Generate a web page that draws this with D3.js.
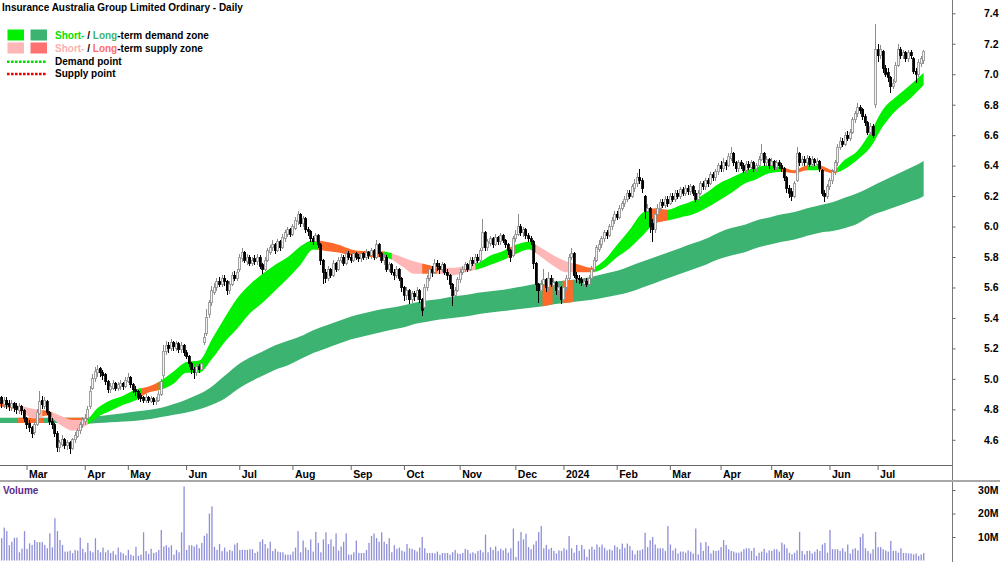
<!DOCTYPE html>
<html>
<head>
<meta charset="utf-8">
<script src="https://cdn.jsdelivr.net/npm/d3@7"></script>
<style>
body { margin: 0; background: #fff; }
svg { display: block; font-family: "Liberation Sans", Arial, sans-serif; }
</style>
</head>
<body>
<svg id="chart" width="1000" height="562"></svg>
<script>
//data//
var title = "Insurance Australia Group Limited Ordinary - Daily";
var startDate = "2023-02-13", endDate = "2024-07-25";
var holidays = ["2023-04-07","2023-04-10","2023-04-25","2023-06-12","2023-12-25","2023-12-26",
	"2024-01-01","2024-01-26","2024-03-29","2024-04-01","2024-04-25","2024-06-10"];
var monthLabels = ["Mar","Apr","May","Jun","Jul","Aug","Sep","Oct","Nov","Dec","2024","Feb","Mar","Apr","May","Jun","Jul"];
var priceTicks = [4.6,4.8,5.0,5.2,5.4,5.6,5.8,6.0,6.2,6.4,6.6,6.8,7.0,7.2,7.4];
var volTicks = [10,20,30];

var opens = [
4.90,4.85,4.88,4.83,4.86,4.84,4.81,4.84,4.82,4.79,
4.82,4.79,4.74,4.71,4.68,4.65,4.70,4.77,4.86,4.82,
4.85,4.78,4.72,4.70,4.64,4.55,4.57,4.60,4.56,4.58,
4.54,4.60,4.62,4.66,4.70,4.72,4.74,4.82,4.94,5.00,
5.04,5.07,5.04,5.03,4.98,4.93,4.94,4.97,4.94,4.95,
4.97,4.95,4.98,5.01,4.96,4.93,4.92,4.89,4.88,4.86,
4.88,4.85,4.87,4.85,4.86,4.90,5.02,5.18,5.22,5.20,
5.24,5.20,5.23,5.19,5.22,5.17,5.15,5.10,5.06,5.04,
5.08,5.06,5.24,5.30,5.42,5.50,5.57,5.60,5.64,5.62,
5.66,5.64,5.58,5.62,5.68,5.66,5.72,5.79,5.83,5.77,
5.80,5.76,5.79,5.77,5.80,5.75,5.72,5.78,5.83,5.86,
5.88,5.84,5.90,5.86,5.92,5.95,5.98,5.95,5.99,6.03,
6.08,6.02,6.05,5.98,5.97,5.92,5.90,5.94,5.88,5.78,
5.70,5.66,5.72,5.68,5.76,5.72,5.78,5.80,5.76,5.82,
5.80,5.78,5.82,5.80,5.79,5.82,5.80,5.83,5.81,5.84,
5.80,5.88,5.82,5.78,5.80,5.72,5.75,5.70,5.68,5.72,
5.66,5.60,5.55,5.58,5.52,5.56,5.54,5.58,5.52,5.47,
5.60,5.66,5.72,5.70,5.76,5.74,5.72,5.75,5.70,5.68,
5.62,5.55,5.58,5.65,5.70,5.72,5.75,5.72,5.78,5.76,
5.80,5.78,5.86,5.96,5.86,5.89,5.92,5.88,5.93,5.90,
5.94,5.91,5.88,5.84,5.81,5.92,5.95,6.00,5.96,5.98,
5.94,5.92,5.90,5.76,5.62,5.58,5.62,5.65,5.60,5.66,
5.61,5.63,5.58,5.60,5.52,5.60,5.66,5.80,5.82,5.68,
5.66,5.65,5.62,5.64,5.62,5.66,5.72,5.78,5.85,5.88,
5.92,5.96,5.94,6.00,6.04,6.08,6.06,6.12,6.15,6.18,
6.22,6.20,6.25,6.28,6.32,6.30,6.20,6.10,6.12,6.02,
5.98,6.08,6.12,6.16,6.14,6.18,6.15,6.20,6.18,6.22,
6.20,6.24,6.22,6.25,6.23,6.26,6.22,6.18,6.22,6.28,
6.26,6.30,6.28,6.34,6.32,6.36,6.40,6.38,6.42,6.40,
6.45,6.48,6.42,6.38,6.42,6.40,6.37,6.41,6.39,6.42,
6.38,6.40,6.44,6.48,6.42,6.44,6.40,6.43,6.39,6.42,
6.40,6.38,6.32,6.25,6.23,6.20,6.30,6.48,6.42,6.44,
6.42,6.45,6.41,6.44,6.41,6.43,6.37,6.22,6.20,6.26,
6.30,6.36,6.42,6.52,6.56,6.54,6.60,6.58,6.62,6.70,
6.74,6.78,6.77,6.72,6.68,6.62,6.66,6.80,7.16,7.12,
7.15,7.04,7.01,6.98,6.92,6.95,7.06,7.16,7.12,7.14,
7.10,7.14,7.10,7.02,7.00,7.07,7.09];

var highs = [
4.93,4.91,4.89,4.88,4.88,4.86,4.86,4.85,4.84,4.84,
4.83,4.80,4.75,4.73,4.69,4.72,4.80,4.92,4.89,4.88,
4.86,4.79,4.74,4.71,4.66,4.60,4.63,4.61,4.60,4.59,
4.61,4.65,4.68,4.72,4.75,4.77,4.82,4.95,5.03,5.08,
5.09,5.08,5.06,5.04,4.99,4.97,4.99,4.98,4.98,4.99,
4.98,5.01,5.04,5.02,4.97,4.95,4.93,4.91,4.89,4.90,
4.89,4.89,4.88,4.88,4.92,5.00,5.22,5.25,5.24,5.26,
5.25,5.25,5.24,5.24,5.23,5.19,5.16,5.11,5.08,5.10,
5.10,5.12,5.30,5.46,5.52,5.61,5.63,5.66,5.67,5.68,
5.68,5.65,5.64,5.70,5.71,5.72,5.82,5.86,5.84,5.82,
5.81,5.80,5.81,5.82,5.81,5.76,5.80,5.86,5.88,5.91,
5.89,5.92,5.91,5.95,5.98,6.00,5.99,6.02,6.06,6.10,
6.09,6.07,6.06,6.00,5.98,5.94,5.96,5.95,5.89,5.79,
5.72,5.74,5.73,5.78,5.77,5.80,5.82,5.81,5.84,5.84,
5.82,5.84,5.83,5.82,5.84,5.83,5.85,5.84,5.86,5.85,
5.91,5.89,5.83,5.82,5.81,5.77,5.76,5.72,5.74,5.73,
5.67,5.61,5.60,5.59,5.58,5.58,5.60,5.59,5.53,5.62,
5.68,5.75,5.74,5.79,5.78,5.76,5.77,5.76,5.72,5.69,
5.63,5.60,5.67,5.72,5.74,5.77,5.76,5.80,5.80,5.82,
5.82,5.86,6.05,5.97,5.92,5.94,5.93,5.95,5.94,5.96,
5.95,5.92,5.89,5.85,5.94,5.98,6.08,6.02,6.00,5.99,
5.96,5.94,5.91,5.77,5.63,5.65,5.72,5.66,5.70,5.68,
5.66,5.64,5.62,5.61,5.62,5.68,5.82,5.86,5.83,5.70,
5.68,5.67,5.66,5.66,5.68,5.74,5.80,5.88,5.91,5.94,
5.98,5.98,6.02,6.06,6.10,6.10,6.14,6.17,6.20,6.24,
6.24,6.28,6.31,6.35,6.38,6.32,6.21,6.15,6.13,6.05,
6.10,6.15,6.18,6.18,6.20,6.20,6.22,6.22,6.24,6.24,
6.26,6.26,6.27,6.27,6.28,6.27,6.24,6.24,6.30,6.30,
6.32,6.32,6.36,6.36,6.38,6.42,6.43,6.45,6.44,6.48,
6.52,6.49,6.43,6.44,6.44,6.42,6.43,6.43,6.44,6.43,
6.42,6.46,6.54,6.49,6.46,6.45,6.45,6.44,6.44,6.44,
6.42,6.39,6.33,6.27,6.25,6.30,6.52,6.49,6.46,6.46,
6.47,6.46,6.46,6.45,6.45,6.44,6.38,6.24,6.28,6.32,
6.38,6.44,6.54,6.59,6.58,6.62,6.63,6.64,6.72,6.76,
6.81,6.80,6.78,6.74,6.69,6.68,6.67,7.33,7.20,7.19,
7.16,7.06,7.04,6.99,6.97,7.08,7.20,7.18,7.16,7.15,
7.16,7.16,7.11,7.04,7.10,7.12,7.16];

var lows = [
4.82,4.83,4.81,4.81,4.80,4.79,4.79,4.78,4.77,4.77,
4.76,4.72,4.67,4.65,4.61,4.63,4.69,4.76,4.80,4.80,
4.76,4.70,4.67,4.62,4.52,4.52,4.55,4.54,4.53,4.51,
4.53,4.58,4.61,4.64,4.68,4.70,4.73,4.80,4.93,4.98,
5.01,5.01,4.99,4.96,4.91,4.91,4.93,4.92,4.92,4.93,
4.93,4.94,4.97,4.94,4.91,4.89,4.86,4.85,4.84,4.84,
4.84,4.84,4.83,4.83,4.85,4.89,5.00,5.16,5.17,5.18,
5.18,5.18,5.17,5.17,5.15,5.13,5.08,5.03,5.00,5.02,
5.04,5.05,5.22,5.28,5.40,5.48,5.55,5.58,5.60,5.60,
5.61,5.55,5.56,5.61,5.64,5.64,5.70,5.77,5.76,5.75,
5.74,5.74,5.75,5.75,5.72,5.69,5.71,5.77,5.81,5.84,
5.82,5.83,5.84,5.85,5.90,5.93,5.93,5.94,5.98,6.01,
6.00,6.00,5.96,5.94,5.90,5.88,5.88,5.86,5.75,5.62,
5.63,5.64,5.66,5.67,5.70,5.71,5.76,5.74,5.75,5.78,
5.76,5.77,5.78,5.77,5.77,5.78,5.78,5.79,5.79,5.78,
5.79,5.80,5.76,5.75,5.70,5.70,5.68,5.65,5.66,5.64,
5.57,5.51,5.52,5.49,5.50,5.51,5.52,5.50,5.41,5.46,
5.58,5.64,5.67,5.69,5.71,5.69,5.70,5.68,5.65,5.59,
5.48,5.53,5.57,5.63,5.68,5.70,5.70,5.71,5.74,5.75,
5.76,5.77,5.84,5.84,5.84,5.87,5.86,5.87,5.88,5.88,
5.89,5.86,5.81,5.77,5.80,5.90,5.94,5.94,5.93,5.92,
5.90,5.88,5.72,5.58,5.50,5.56,5.60,5.57,5.58,5.60,
5.58,5.55,5.54,5.49,5.50,5.58,5.65,5.78,5.66,5.63,
5.62,5.61,5.60,5.60,5.60,5.65,5.71,5.77,5.83,5.86,
5.90,5.92,5.93,5.98,6.02,6.04,6.05,6.10,6.13,6.16,
6.18,6.19,6.23,6.26,6.28,6.22,6.05,6.06,5.96,5.90,
5.96,6.05,6.10,6.12,6.12,6.13,6.14,6.16,6.16,6.18,
6.18,6.20,6.20,6.21,6.21,6.20,6.16,6.17,6.21,6.24,
6.24,6.26,6.27,6.30,6.30,6.34,6.36,6.36,6.37,6.39,
6.43,6.40,6.36,6.36,6.38,6.35,6.35,6.37,6.37,6.36,
6.36,6.39,6.43,6.40,6.40,6.38,6.38,6.37,6.37,6.38,
6.36,6.30,6.22,6.19,6.17,6.19,6.29,6.40,6.40,6.40,
6.40,6.39,6.39,6.40,6.39,6.36,6.20,6.16,6.18,6.24,
6.28,6.34,6.40,6.50,6.52,6.53,6.56,6.56,6.61,6.68,
6.72,6.74,6.70,6.66,6.60,6.60,6.58,6.78,7.08,7.10,
7.01,6.98,6.95,6.88,6.90,6.94,7.05,7.10,7.10,7.08,
7.08,7.10,7.00,6.94,6.98,7.05,7.07];

var closes = [
4.86,4.88,4.84,4.86,4.83,4.82,4.84,4.81,4.80,4.82,
4.79,4.74,4.70,4.68,4.64,4.70,4.78,4.85,4.83,4.86,
4.78,4.72,4.70,4.64,4.55,4.58,4.60,4.56,4.58,4.54,
4.60,4.63,4.66,4.70,4.73,4.74,4.80,4.92,5.00,5.05,
5.06,5.04,5.02,4.98,4.93,4.95,4.97,4.94,4.96,4.97,
4.95,4.99,5.01,4.96,4.93,4.92,4.88,4.87,4.86,4.88,
4.86,4.87,4.85,4.86,4.90,4.98,5.18,5.22,5.20,5.24,
5.21,5.23,5.19,5.22,5.17,5.15,5.10,5.06,5.04,5.08,
5.06,5.10,5.27,5.40,5.50,5.58,5.60,5.64,5.62,5.66,
5.64,5.58,5.62,5.68,5.66,5.70,5.80,5.83,5.78,5.80,
5.76,5.78,5.77,5.80,5.74,5.72,5.78,5.84,5.86,5.88,
5.84,5.90,5.86,5.93,5.96,5.98,5.95,6.00,6.04,6.08,
6.02,6.05,5.98,5.97,5.92,5.90,5.94,5.88,5.78,5.70,
5.66,5.72,5.68,5.76,5.72,5.78,5.80,5.76,5.82,5.80,
5.78,5.82,5.80,5.79,5.82,5.80,5.83,5.81,5.84,5.80,
5.88,5.82,5.78,5.80,5.72,5.75,5.70,5.68,5.72,5.66,
5.60,5.55,5.58,5.52,5.56,5.54,5.58,5.52,5.45,5.60,
5.66,5.72,5.70,5.76,5.74,5.72,5.75,5.70,5.68,5.62,
5.55,5.58,5.65,5.70,5.72,5.75,5.72,5.78,5.76,5.80,
5.78,5.84,5.96,5.86,5.90,5.92,5.88,5.93,5.90,5.94,
5.91,5.88,5.84,5.80,5.92,5.95,6.00,5.96,5.98,5.94,
5.92,5.90,5.76,5.62,5.58,5.62,5.65,5.60,5.66,5.62,
5.63,5.58,5.60,5.52,5.60,5.66,5.80,5.82,5.68,5.66,
5.65,5.63,5.64,5.62,5.66,5.72,5.78,5.86,5.88,5.92,
5.96,5.94,6.00,6.04,6.08,6.06,6.12,6.15,6.18,6.22,
6.20,6.26,6.28,6.32,6.30,6.25,6.10,6.12,6.00,5.98,
6.08,6.12,6.16,6.14,6.18,6.15,6.20,6.18,6.22,6.20,
6.24,6.22,6.25,6.23,6.26,6.22,6.18,6.22,6.28,6.26,
6.30,6.28,6.34,6.32,6.36,6.40,6.38,6.42,6.40,6.46,
6.48,6.42,6.38,6.42,6.40,6.37,6.41,6.39,6.42,6.38,
6.40,6.44,6.48,6.42,6.44,6.40,6.43,6.39,6.42,6.40,
6.38,6.32,6.25,6.22,6.20,6.28,6.48,6.42,6.44,6.42,
6.45,6.41,6.44,6.42,6.43,6.38,6.22,6.20,6.26,6.30,
6.36,6.42,6.52,6.56,6.54,6.60,6.58,6.62,6.70,6.74,
6.78,6.76,6.72,6.68,6.62,6.66,6.60,7.16,7.12,7.16,
7.04,7.00,6.98,6.92,6.94,7.06,7.16,7.12,7.14,7.10,
7.14,7.12,7.02,7.00,7.08,7.10,7.15];

// volume in millions
var volumes = [
7,9,9.5,14,12.5,6.5,8,9.7,9.7,3.5,
5,12.5,5,7.3,6.6,8.7,7.8,7.8,7.8,6.6,
5.2,11.6,5.6,18,12.5,8.7,6.6,3.8,3.8,4.2,
3.1,4.5,4.2,9.7,5,3.5,7.5,4,3.5,9.5,
4.5,3.5,5.5,3.5,4.5,3.2,4,2.5,5.5,3.5,
3,2.2,4.5,2.5,2,5.8,2,2.5,12,4,
2.8,5,3.2,3.5,4.5,13,6,6.5,5.6,6.5,
2.5,4.5,3.5,12,31.5,4.5,6.5,6.5,6,6.8,
5.2,7.5,10.5,11.5,20,23,5.8,4.5,7,4,
5.5,3.8,4.5,4,6.8,7.5,4.5,4.5,4.5,4.5,
4.8,4.8,3.2,3.8,8,9,7,5.2,8,4,
5,3.8,3.5,3.5,2.5,2.5,2.5,3.8,5.5,12.5,
3.5,8.5,5.5,4.5,9,3.8,12.2,7.5,3.5,9,
12,7,9,6,11.5,4.2,6,8,11.5,2.5,
2.5,3.5,8.5,3.2,3.2,3.2,4.5,7.5,10.5,11.5,
9.5,8,12,8,7,9.5,3.5,6.5,5,5.5,
4.2,3.8,7,5.2,5,4.5,3.8,5.5,10,5.2,
3.2,3.2,3.2,3,3.8,2.5,3.2,3.2,3.2,2.5,
3.5,4.5,3,2.8,3.2,5,4.5,3,3.5,3,
4,4.5,3.5,11,3.5,5.6,4.5,6,4,5,
4.3,5.2,3.3,5.2,13.6,1.5,8.3,12.1,9.0,11.4,
5.7,4.8,6.8,8.3,12.1,14.7,5.2,6.6,4.8,5.4,
4.1,3.0,4.3,4.1,5.2,4.6,10.4,5.2,3.3,6.6,
4.1,6.6,4.8,1.5,4.8,5.9,4.6,6.8,5.7,6.8,
5.4,4.3,4.8,4.3,6.4,5.7,4.8,7.2,5.4,7.2,
6.2,4.3,2.6,4.3,4.3,4.8,11.8,5.7,8.6,10.0,
6.8,5.2,5.2,5.2,4.1,14.7,6.8,4.3,5.2,3.0,
3.8,3.8,3.3,4.3,3.8,3.0,13.6,2.6,7.6,4.1,
7.9,6.2,3.0,4.3,4.1,4.3,5.7,8.7,6.6,4.8,
4.1,3.8,3.3,3.3,3.8,4.8,5.2,5.2,4.1,5.4,
1.9,3.3,3.8,5.0,3.3,4.3,4.1,4.8,4.8,3.8,
7.6,6.8,5.2,3.3,2.6,3.3,4.3,12.2,4.1,2.6,
4.1,4.1,3.0,3.8,4.8,4.1,6.8,7.5,3.3,13.0,
4.8,4.8,4.8,4.1,5.2,3.8,6.8,3.0,4.8,5.2,
4.3,10.0,11.4,5.2,4.1,3.0,4.8,12.2,5.7,5.7,
4.8,4.3,3.8,8.3,4.1,4.1,3.3,5.2,3.2,3.2,
3.0,3.0,2.6,3.0,1.9,2.6,3.2];

// long-term zone, sampled by bar index
var ltIdx = [0,5,10,15,20,25,30,35,40,45,50,55,60,65,70,75,80,85,90,95,100,105,110,115,120,125,130,135,140,145,150,155,160,165,170,175,180,185,190,195,200,205,210,215,220,225,230,235,240,245,250,255,260,265,270,275,280,285,290,295,300,305,310,315,320,325,330,335,340,345,350,355,360,365,366];
var ltHi = [4.745,4.745,4.745,4.745,4.745,4.745,4.745,4.745,4.755,4.765,4.775,4.785,4.795,4.81,4.835,4.865,4.90,4.95,5.02,5.09,5.14,5.18,5.22,5.25,5.28,5.32,5.35,5.38,5.41,5.43,5.45,5.465,5.48,5.50,5.515,5.525,5.54,5.55,5.565,5.575,5.585,5.60,5.615,5.63,5.64,5.645,5.655,5.67,5.69,5.71,5.74,5.77,5.80,5.83,5.86,5.89,5.92,5.96,5.99,6.01,6.04,6.06,6.08,6.095,6.12,6.14,6.16,6.19,6.22,6.26,6.30,6.34,6.38,6.42,6.43];
var ltLo = [4.71,4.71,4.71,4.71,4.71,4.71,4.71,4.705,4.71,4.715,4.72,4.725,4.735,4.75,4.765,4.78,4.80,4.83,4.87,4.93,4.98,5.02,5.06,5.09,5.13,5.17,5.20,5.23,5.26,5.28,5.30,5.32,5.335,5.36,5.375,5.39,5.40,5.41,5.425,5.435,5.445,5.455,5.465,5.475,5.49,5.50,5.51,5.52,5.535,5.55,5.57,5.60,5.63,5.66,5.69,5.72,5.75,5.785,5.81,5.83,5.86,5.88,5.90,5.915,5.94,5.96,5.97,5.99,6.02,6.07,6.10,6.13,6.16,6.19,6.20];
var ltSupplyFrom = [9,27,216,224];
var ltSupplyTo = [18,36,219,227];

// short-term zone
var stIdx = [0,5,10,15,20,25,30,35,40,45,50,55,60,65,70,75,80,85,90,95,100,105,110,115,120,125,130,135,140,145,150,155,160,165,170,175,180,185,190,195,200,205,210,215,220,225,230,235,240,245,250,255,260,265,270,275,280,285,290,295,300,305,310,315,320,325,330,335,340,345,350,355,360,366];
var stHi = [4.85,4.84,4.82,4.80,4.79,4.76,4.73,4.73,4.81,4.86,4.89,4.93,4.95,4.99,5.05,5.11,5.12,5.26,5.40,5.53,5.62,5.69,5.75,5.80,5.87,5.91,5.90,5.88,5.85,5.84,5.84,5.83,5.80,5.77,5.75,5.73,5.73,5.74,5.76,5.81,5.84,5.88,5.90,5.86,5.81,5.77,5.75,5.73,5.78,5.88,5.98,6.09,6.12,6.11,6.14,6.17,6.22,6.28,6.32,6.36,6.39,6.40,6.39,6.37,6.40,6.40,6.37,6.44,6.50,6.62,6.77,6.85,6.92,7.01];
var stLo = [4.82,4.81,4.78,4.74,4.76,4.70,4.66,4.69,4.75,4.79,4.83,4.86,4.91,4.93,4.97,5.04,5.04,5.13,5.24,5.33,5.43,5.50,5.58,5.66,5.75,5.85,5.84,5.83,5.81,5.80,5.80,5.79,5.74,5.69,5.69,5.69,5.68,5.70,5.72,5.75,5.78,5.82,5.85,5.80,5.74,5.70,5.70,5.70,5.73,5.80,5.86,5.94,6.02,6.04,6.06,6.08,6.12,6.17,6.22,6.28,6.31,6.35,6.36,6.35,6.37,6.37,6.35,6.38,6.44,6.52,6.66,6.76,6.83,6.93];
// state runs: g demand, p supply, o narrow supply
var stRunFrom = [0,8,18,22,36,57,64,127,153,156,168,174,189,202,205,213,228,236,258,265,310,320,325,332];
var stRunState = ["o","p","o","p","g","o","g","o","g","p","o","p","g","o","g","p","o","g","o","g","o","g","o","g"];

var zoneColor = {g: "#00f000", p: "#ffb6b6", o: "#ff6a2b"};
var longColor = "#3cb371";

//setup//
var svg = d3.select("#chart");
var axisX = 952;
var labelFont = "bold 10.5px 'Liberation Sans', Arial, sans-serif";
var textFont = "bold 10px 'Liberation Sans', Arial, sans-serif";
var fmt = d3.utcFormat("%Y-%m-%d");
var days = d3.utcDays(new Date(startDate), d3.utcDay.offset(new Date(endDate), 1))
	.filter(function(d) { return d.getUTCDay() % 6 !== 0 && holidays.indexOf(fmt(d)) < 0; });
var n = closes.length;

var x = d3.scaleBand()
	.domain(d3.range(n))
	.range([-4.67, -4.67 + 2.533 * n]);
function xc(i) { return x(i) + x.bandwidth() / 2; }

var y = d3.scaleLinear().domain([4.6, 7.4]).range([439.8, 13.3]);
var yv = d3.scaleLinear().domain([0, 30]).range([560.5, 490]);

var defs = svg.append("defs");
defs.append("clipPath").attr("id", "priceClip")
	.append("rect").attr("x", 0).attr("y", 0).attr("width", axisX).attr("height", 465);

var area = d3.area()
	.x(function(d) { return xc(d.i); })
	.y0(function(d) { return y(d.lo); })
	.y1(function(d) { return y(d.hi); })
	.curve(d3.curveMonotoneX);

var ltData = ltIdx.map(function(d, k) { return {i: d, hi: ltHi[k], lo: ltLo[k]}; });
var stData = stIdx.map(function(d, k) { return {i: d, hi: stHi[k], lo: stLo[k]}; });

var plot = svg.append("g").attr("clip-path", "url(#priceClip)");

//long-term zone
plot.append("path").attr("d", area(ltData)).attr("fill", longColor);
ltSupplyFrom.forEach(function(f, k) {
	var id = "lts" + k;
	defs.append("clipPath").attr("id", id).append("rect")
		.attr("x", xc(f) - 1.3).attr("y", 0)
		.attr("width", xc(ltSupplyTo[k]) - xc(f) + 2.6).attr("height", 465);
	plot.append("path").attr("d", area(ltData)).attr("fill", zoneColor.o).attr("clip-path", "url(#" + id + ")");
});

//short-term zone
stRunFrom.forEach(function(f, k) {
	var id = "st" + k;
	var x0 = k === 0 ? -10 : xc(f);
	var x1 = k < stRunFrom.length - 1 ? xc(stRunFrom[k + 1]) : xc(n - 1) + 2;
	defs.append("clipPath").attr("id", id).append("rect")
		.attr("x", x0).attr("y", 0).attr("width", x1 - x0 + 0.3).attr("height", 465);
	plot.append("path").attr("d", area(stData)).attr("fill", zoneColor[stRunState[k]])
		.attr("clip-path", "url(#" + id + ")");
});

//candles
var candles = plot.append("g").attr("shape-rendering", "crispEdges");
candles.selectAll("line").data(closes).enter().append("line")
	.attr("x1", function(d, i) { return xc(i); })
	.attr("x2", function(d, i) { return xc(i); })
	.attr("y1", function(d, i) { return y(highs[i]); })
	.attr("y2", function(d, i) { return y(lows[i]); })
	.attr("stroke", function(d, i) { return d >= opens[i] ? "#8c8c8c" : "#000"; })
	.attr("stroke-width", 1);
candles.selectAll("rect").data(closes).enter().append("rect")
	.attr("x", function(d, i) { return xc(i) - 1; })
	.attr("width", 2)
	.attr("y", function(d, i) { return y(Math.max(d, opens[i])); })
	.attr("height", function(d, i) { return Math.max(1, Math.abs(y(d) - y(opens[i]))); })
	.attr("fill", function(d, i) { return d >= opens[i] ? "#f4f4f4" : "#000"; })
	.attr("stroke", function(d, i) { return d >= opens[i] ? "#8c8c8c" : "#000"; })
	.attr("stroke-width", 0.8);

//volume
svg.append("g").selectAll("rect").data(volumes).enter().append("rect")
	.attr("x", function(d, i) { return xc(i) - 0.6; })
	.attr("width", 1.3)
	.attr("y", function(d) { return yv(d); })
	.attr("height", function(d) { return yv(0) - yv(d); })
	.attr("fill", "#8e8ed9");

//axes
svg.append("line").attr("x1", axisX + 0.5).attr("x2", axisX + 0.5).attr("y1", 0).attr("y2", 562)
	.attr("stroke", "#7a7a7a");
svg.append("line").attr("x1", 0).attr("x2", axisX).attr("y1", 465.5).attr("y2", 465.5)
	.attr("stroke", "#666");
svg.append("rect").attr("x", 0).attr("y", 480).attr("width", 1000).attr("height", 2).attr("fill", "#a8a8a8");

function styleAxis(g) {
	g.select(".domain").remove();
	g.selectAll(".tick line").attr("stroke", "#666");
	g.selectAll(".tick text").attr("x", 46).attr("text-anchor", "end")
		.attr("fill", "#000").style("font", labelFont);
}

var yAxis = d3.axisRight(y).tickValues(priceTicks).tickSize(3).tickFormat(d3.format(".1f"));
svg.append("g").attr("transform", "translate(" + (axisX + 0.5) + ",0)").call(yAxis).call(styleAxis);

var vAxis = d3.axisRight(yv).tickValues(volTicks).tickSize(3).tickFormat(function(d) { return d + "M"; });
svg.append("g").attr("transform", "translate(" + (axisX + 0.5) + ",0)").call(vAxis).call(styleAxis);

// month ticks
var monthStarts = [];
days.slice(0, n).forEach(function(d, i) {
	if (i > 0 && d.getUTCMonth() !== days[i - 1].getUTCMonth()) monthStarts.push(i);
});
var mt = svg.append("g");
monthStarts.forEach(function(i, k) {
	mt.append("line").attr("x1", xc(i)).attr("x2", xc(i)).attr("y1", 466).attr("y2", 470)
		.attr("stroke", "#666");
	mt.append("text").attr("x", xc(i) + 2).attr("y", 477.5).text(monthLabels[k])
		.style("font", labelFont);
});

//titles & legend
svg.append("text").attr("x", 2).attr("y", 10.5).text(title).style("font", textFont);

svg.append("text").attr("x", 3).attr("y", 493.5).text("Volume").attr("fill", "#5b2a86")
	.style("font", textFont);

var legend = svg.append("g").style("font", textFont);
legend.append("rect").attr("x", 7.5).attr("y", 29.5).attr("width", 16.5).attr("height", 11).attr("fill", zoneColor.g);
legend.append("rect").attr("x", 30.5).attr("y", 29.5).attr("width", 16.5).attr("height", 11).attr("fill", longColor);
legend.append("rect").attr("x", 7.5).attr("y", 42.5).attr("width", 16.5).attr("height", 11).attr("fill", zoneColor.p);
legend.append("rect").attr("x", 30.5).attr("y", 42.5).attr("width", 16.5).attr("height", 11).attr("fill", "#ff7070");

var t1 = legend.append("text").attr("x", 55).attr("y", 38.5);
t1.append("tspan").attr("fill", "#00e000").text("Short-");
t1.append("tspan").attr("fill", "#000").text(" / ");
t1.append("tspan").attr("fill", longColor).text("Long");
t1.append("tspan").attr("fill", "#000").text("-term demand zone");

var t2 = legend.append("text").attr("x", 55).attr("y", 51.5);
t2.append("tspan").attr("fill", "#ffb0b0").text("Short-");
t2.append("tspan").attr("fill", "#000").text(" / ");
t2.append("tspan").attr("fill", "#ff6b6b").text("Long");
t2.append("tspan").attr("fill", "#000").text("-term supply zone");

legend.append("line").attr("x1", 7).attr("x2", 46).attr("y1", 61.7).attr("y2", 61.7)
	.attr("stroke", "#00dd00").attr("stroke-width", 2.6).attr("stroke-dasharray", "2.6,1.4");
legend.append("text").attr("x", 55).attr("y", 64.5).text("Demand point");
legend.append("line").attr("x1", 7).attr("x2", 46).attr("y1", 74).attr("y2", 74)
	.attr("stroke", "#ee0000").attr("stroke-width", 2.6).attr("stroke-dasharray", "2.6,1.4");
legend.append("text").attr("x", 55).attr("y", 77).text("Supply point");
</script>
</body>
</html>
